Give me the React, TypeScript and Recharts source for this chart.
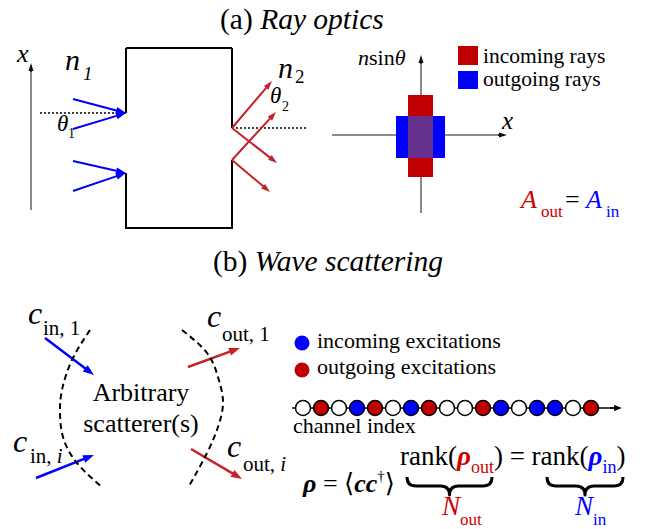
import React from 'react';
import { ComposedChart, XAxis, YAxis, Scatter, ReferenceLine, ReferenceArea } from 'recharts';

const W = 645;
const H = 529;
const RED = '#c00000';
const RAY_RED = '#c6202a';
const TXT_RED = '#cc0000';
const BLUE = '#0000ff';
const PURPLE = '#652f8e';
const SERIF = '"Liberation Serif", "Times New Roman", "DejaVu Serif", serif';

// ---------- panel (a) : ray optics ----------
const incomingRays = [
  { x1: 73, y1: 99, x2: 126, y2: 113 },
  { x1: 73, y1: 129, x2: 126, y2: 113 },
  { x1: 73, y1: 161, x2: 126, y2: 173 },
  { x1: 73, y1: 191, x2: 126, y2: 173 },
];
const outgoingRays = [
  { x1: 232, y1: 128, x2: 272, y2: 81 },
  { x1: 232, y1: 128, x2: 277, y2: 163 },
  { x1: 232, y1: 160, x2: 276, y2: 112 },
  { x1: 232, y1: 160, x2: 270, y2: 192 },
];
const boxEdges = [
  { x1: 126, y1: 48, x2: 232, y2: 48 },
  { x1: 126, y1: 48, x2: 126, y2: 113 },
  { x1: 126, y1: 173, x2: 126, y2: 228 },
  { x1: 125, y1: 228, x2: 233, y2: 228 },
  { x1: 232, y1: 48, x2: 232, y2: 128 },
  { x1: 232, y1: 160, x2: 232, y2: 228 },
];
const normals = [
  { x1: 40, y1: 113, x2: 126, y2: 113 },
  { x1: 232, y1: 128, x2: 307, y2: 128 },
];
const grayAxes = [
  { x1: 31, y1: 210, x2: 31, y2: 66 },
  { x1: 421, y1: 213, x2: 421, y2: 177 },
  { x1: 421, y1: 95, x2: 421, y2: 58 },
  { x1: 332, y1: 135, x2: 396, y2: 135 },
  { x1: 445, y1: 135, x2: 503, y2: 135 },
];
const axisTips = [
  { x1: 31, y1: 72, x2: 31, y2: 63 },
  { x1: 421, y1: 64, x2: 421, y2: 55 },
  { x1: 498, y1: 135, x2: 507, y2: 135 },
];
const phaseIncoming = { x1: 408, x2: 433, y1: 95, y2: 177 };
const phaseOutgoing = { x1: 396, x2: 445, y1: 116, y2: 158 };
const phaseOverlap = { x1: 408, x2: 433, y1: 116, y2: 158 };
const legendRays = [
  { label: 'incoming rays', color: RED, x1: 458, x2: 478, y1: 46, y2: 65 },
  { label: 'outgoing rays', color: BLUE, x1: 458, x2: 478, y1: 71, y2: 89 },
];

// ---------- panel (b) : wave scattering ----------
const leftArc = [
  { x: 90, y: 330 }, { x: 72, y: 360 }, { x: 62, y: 390 }, { x: 60, y: 412 },
  { x: 63, y: 437 }, { x: 77, y: 463 }, { x: 103, y: 488 },
];
const rightArc = [
  { x: 182, y: 330 }, { x: 207, y: 353 }, { x: 218, y: 377 }, { x: 223, y: 402 },
  { x: 218, y: 427 }, { x: 207, y: 453 }, { x: 188, y: 488 },
];
const inWaves = [
  { x1: 45, y1: 338, x2: 94, y2: 375 },
  { x1: 36, y1: 478, x2: 94, y2: 455 },
];
const outWaves = [
  { x1: 188, y1: 367, x2: 240, y2: 348 },
  { x1: 191, y1: 449, x2: 242, y2: 479 },
];
const legendDots = [
  { x: 302, y: 343, color: BLUE },
  { x: 302, y: 370, color: RED },
];
const channelStates = [
  'empty', 'out', 'empty', 'in', 'out', 'empty', 'in', 'out', 'empty',
  'empty', 'out', 'in', 'empty', 'in', 'in', 'empty', 'out',
];
const channels = channelStates.map((state, i) => ({ ch: i + 1, y: 408, state }));
const channelLine = [{ x: 292, y: 408 }, { x: 616, y: 408 }];
const channelTip = { x1: 610, y1: 408, x2: 622, y2: 408 };
const braces = [
  { x1: 407, x2: 492, y: 477, color: '#000' },
  { x1: 547, x2: 623, y: 477, color: '#000' },
];

// ---------- text anchors ----------
const labels = [
  { id: 'titleA', x: 220, y: 29 },
  { id: 'xA', x: 17, y: 62 },
  { id: 'n1', x: 65, y: 70 },
  { id: 'th1', x: 57, y: 131 },
  { id: 'n2', x: 278, y: 78 },
  { id: 'th2', x: 270, y: 103 },
  { id: 'nsin', x: 358, y: 65 },
  { id: 'xPhase', x: 502, y: 129 },
  { id: 'legIn', x: 483, y: 63 },
  { id: 'legOut', x: 483, y: 86 },
  { id: 'aeq', x: 521, y: 208 },
  { id: 'titleB', x: 213, y: 271 },
  { id: 'cin1', x: 28, y: 324 },
  { id: 'cout1', x: 207, y: 327 },
  { id: 'cini', x: 13, y: 452 },
  { id: 'couti', x: 227, y: 457 },
  { id: 'arb', x: 141, y: 401 },
  { id: 'scat', x: 141, y: 432 },
  { id: 'exIn', x: 317, y: 348 },
  { id: 'exOut', x: 317, y: 374 },
  { id: 'chIdx', x: 293, y: 433 },
  { id: 'rho', x: 303, y: 492 },
  { id: 'rank', x: 400, y: 465 },
  { id: 'nout', x: 442, y: 515 },
  { id: 'nin', x: 575, y: 515 },
];

const T = (props: any) => <text fontFamily={SERIF} fill="#000" {...props} />;

function renderLabel(id: string, x: number, y: number) {
  switch (id) {
    case 'titleA':
      return <T x={x} y={y} fontSize={29.5}>(a) <tspan fontStyle="italic">Ray optics</tspan></T>;
    case 'titleB':
      return <T x={x} y={y} fontSize={29.5}>(b) <tspan fontStyle="italic">Wave scattering</tspan></T>;
    case 'xA':
      return <T x={x} y={y} fontSize={26} fontStyle="italic">x</T>;
    case 'n1':
      return (
        <g>
          <T x={x} y={y} fontSize={30} fontStyle="italic">n</T>
          <T x={x + 18} y={y + 10} fontSize={19} fontStyle="italic">1</T>
        </g>
      );
    case 'n2':
      return (
        <g>
          <T x={x} y={y} fontSize={30} fontStyle="italic">n</T>
          <T x={x + 17} y={y + 5} fontSize={19}>2</T>
        </g>
      );
    case 'th1':
      return (
        <g>
          <T x={x} y={y} fontSize={23} fontStyle="italic">θ</T>
          <T x={x + 11} y={y + 7} fontSize={14}>1</T>
        </g>
      );
    case 'th2':
      return (
        <g>
          <T x={x} y={y} fontSize={23} fontStyle="italic">θ</T>
          <T x={x + 12} y={y + 8} fontSize={14}>2</T>
        </g>
      );
    case 'nsin':
      return (
        <T x={x} y={y} fontSize={22}>
          <tspan fontStyle="italic">n</tspan>sin<tspan fontStyle="italic">θ</tspan>
        </T>
      );
    case 'xPhase':
      return <T x={x} y={y} fontSize={25} fontStyle="italic">x</T>;
    case 'legIn':
      return <T x={x} y={y} fontSize={21.5}>{legendRays[0].label}</T>;
    case 'legOut':
      return <T x={x} y={y} fontSize={21.5}>{legendRays[1].label}</T>;
    case 'aeq':
      return (
        <g>
          <T x={x} y={y} fontSize={26} fontStyle="italic" fill={TXT_RED}>A</T>
          <T x={x + 20} y={y + 9} fontSize={17} fill={TXT_RED}>out</T>
          <T x={x + 44} y={y} fontSize={26}>=</T>
          <T x={x + 65} y={y} fontSize={26} fontStyle="italic" fill={BLUE}>A</T>
          <T x={x + 85} y={y + 9} fontSize={17} fill={BLUE}>in</T>
        </g>
      );
    case 'cin1':
      return (
        <g>
          <T x={x} y={y} fontSize={32} fontStyle="italic">c</T>
          <T x={x + 15} y={y + 11} fontSize={21}>in, 1</T>
        </g>
      );
    case 'cout1':
      return (
        <g>
          <T x={x} y={y} fontSize={32} fontStyle="italic">c</T>
          <T x={x + 15} y={y + 14} fontSize={21}>out, 1</T>
        </g>
      );
    case 'cini':
      return (
        <g>
          <T x={x} y={y} fontSize={32} fontStyle="italic">c</T>
          <T x={x + 17} y={y + 11} fontSize={21}>in, <tspan fontStyle="italic">i</tspan></T>
        </g>
      );
    case 'couti':
      return (
        <g>
          <T x={x} y={y} fontSize={32} fontStyle="italic">c</T>
          <T x={x + 16} y={y + 14} fontSize={21}>out, <tspan fontStyle="italic">i</tspan></T>
        </g>
      );
    case 'arb':
      return <T x={x} y={y} fontSize={26} textAnchor="middle">Arbitrary</T>;
    case 'scat':
      return <T x={x} y={y} fontSize={26} textAnchor="middle">scatterer(s)</T>;
    case 'exIn':
      return <T x={x} y={y} fontSize={22}>incoming excitations</T>;
    case 'exOut':
      return <T x={x} y={y} fontSize={22}>outgoing excitations</T>;
    case 'chIdx':
      return <T x={x} y={y} fontSize={22}>channel index</T>;
    case 'rho':
      return (
        <T x={x} y={y} fontSize={26}>
          <tspan fontWeight="bold" fontStyle="italic">ρ</tspan> = ⟨
          <tspan fontWeight="bold" fontStyle="italic">cc</tspan>
          <tspan fontSize={15} dy={-11}>†</tspan>
          <tspan dy={11}>⟩</tspan>
        </T>
      );
    case 'rank':
      return (
        <T x={x} y={y} fontSize={27}>
          rank(
          <tspan fontWeight="bold" fontStyle="italic" fill={TXT_RED}>ρ</tspan>
          <tspan fontSize={18} dy={8} fill={TXT_RED}>out</tspan>
          <tspan dy={-8}>) = rank(</tspan>
          <tspan fontWeight="bold" fontStyle="italic" fill={BLUE}>ρ</tspan>
          <tspan fontSize={18} dy={8} fill={BLUE}>in</tspan>
          <tspan dy={-8}>)</tspan>
        </T>
      );
    case 'nout':
      return (
        <g>
          <T x={x} y={y} fontSize={27} fontStyle="italic" fill={TXT_RED}>N</T>
          <T x={x + 18} y={y + 10} fontSize={17} fill={TXT_RED}>out</T>
        </g>
      );
    case 'nin':
      return (
        <g>
          <T x={x} y={y} fontSize={27} fontStyle="italic" fill={BLUE}>N</T>
          <T x={x + 18} y={y + 10} fontSize={17} fill={BLUE}>in</T>
        </g>
      );
    default:
      return <g />;
  }
}

const arrowShape = (color: string, sw: number, hl: number, hw: number) => (p: any) => {
  const { x1, y1, x2, y2 } = p;
  if (x1 == null || x2 == null) return <g />;
  const dx = x2 - x1;
  const dy = y2 - y1;
  const L = Math.hypot(dx, dy) || 1;
  const ux = dx / L;
  const uy = dy / L;
  const bx = x2 - ux * hl;
  const by = y2 - uy * hl;
  const px = -uy;
  const py = ux;
  return (
    <g>
      <line x1={x1} y1={y1} x2={bx + ux} y2={by + uy} stroke={color} strokeWidth={sw} />
      <polygon
        points={`${x2},${y2} ${bx + (px * hw) / 2},${by + (py * hw) / 2} ${bx - (px * hw) / 2},${by - (py * hw) / 2}`}
        fill={color}
      />
    </g>
  );
};

const braceShape = (color: string) => (p: any) => {
  const { x1, y1, x2 } = p;
  if (x1 == null) return <g />;
  const h = 18;
  const r = h / 2;
  const xm = (x1 + x2) / 2;
  const y = y1;
  const d = `M${x1},${y} Q${x1},${y + r} ${x1 + r},${y + r} L${xm - r},${y + r} Q${xm},${y + r} ${xm},${y + h} Q${xm},${y + r} ${xm + r},${y + r} L${x2 - r},${y + r} Q${x2},${y + r} ${x2},${y}`;
  return <path d={d} fill="none" stroke={color} strokeWidth={3} strokeLinejoin="round" />;
};

const seg = (s: { x1: number; y1: number; x2: number; y2: number }) => [
  { x: s.x1, y: s.y1 },
  { x: s.x2, y: s.y2 },
];

const blank = () => <g />;

export default function App() {
  return (
    <div style={{ position: 'absolute', left: 0, top: 0, width: W, height: H, background: '#fff' }}>
      <ComposedChart width={W} height={H} margin={{ top: 0, right: 0, bottom: 0, left: 0 }}>
        <XAxis type="number" dataKey="x" domain={[0, W]} hide allowDataOverflow />
        <XAxis xAxisId="ch" type="number" dataKey="ch" domain={[-15.8333333, 20]} hide allowDataOverflow />
        <YAxis type="number" dataKey="y" domain={[0, H]} reversed hide allowDataOverflow />

        {/* phase-space rectangles */}
        <ReferenceArea {...phaseIncoming} fill={RED} fillOpacity={1} stroke="none" ifOverflow="visible" />
        <ReferenceArea {...phaseOutgoing} fill={BLUE} fillOpacity={1} stroke="none" ifOverflow="visible" />
        <ReferenceArea {...phaseOverlap} fill={PURPLE} fillOpacity={1} stroke="none" ifOverflow="visible" />
        {legendRays.map((l, i) => (
          <ReferenceArea key={`lr${i}`} x1={l.x1} x2={l.x2} y1={l.y1} y2={l.y2} fill={l.color} fillOpacity={1} stroke="none" ifOverflow="visible" />
        ))}

        {/* axes */}
        {grayAxes.map((s, i) => (
          <ReferenceLine key={`ga${i}`} segment={seg(s)} stroke="#8a8a8a" strokeWidth={2} ifOverflow="visible" />
        ))}
        {axisTips.map((s, i) => (
          <ReferenceLine key={`at${i}`} segment={seg(s)} ifOverflow="visible" shape={arrowShape('#111', 1.5, 8, 5)} />
        ))}

        {/* box */}
        {boxEdges.map((s, i) => (
          <ReferenceLine key={`be${i}`} segment={seg(s)} stroke="#000" strokeWidth={2} ifOverflow="visible" />
        ))}
        {normals.map((s, i) => (
          <ReferenceLine key={`nm${i}`} segment={seg(s)} stroke="#000" strokeWidth={1.5} strokeDasharray="2 2" ifOverflow="visible" />
        ))}
        {incomingRays.map((s, i) => (
          <ReferenceLine key={`ir${i}`} segment={seg(s)} ifOverflow="visible" shape={arrowShape(BLUE, 2, 10, 7)} />
        ))}
        {outgoingRays.map((s, i) => (
          <ReferenceLine key={`or${i}`} segment={seg(s)} ifOverflow="visible" shape={arrowShape(RAY_RED, 2, 9, 6)} />
        ))}

        {/* panel b */}
        <Scatter data={leftArc} shape={blank} line={{ stroke: '#000', strokeWidth: 2, strokeDasharray: '6 4' }} lineJointType="natural" isAnimationActive={false} />
        <Scatter data={rightArc} shape={blank} line={{ stroke: '#000', strokeWidth: 2, strokeDasharray: '6 4' }} lineJointType="natural" isAnimationActive={false} />
        {inWaves.map((s, i) => (
          <ReferenceLine key={`iw${i}`} segment={seg(s)} ifOverflow="visible" shape={arrowShape(BLUE, 2.5, 11, 8)} />
        ))}
        {outWaves.map((s, i) => (
          <ReferenceLine key={`ow${i}`} segment={seg(s)} ifOverflow="visible" shape={arrowShape(RAY_RED, 2.5, 11, 8)} />
        ))}

        <Scatter
          data={legendDots}
          isAnimationActive={false}
          shape={(p: any) => <circle cx={p.cx} cy={p.cy} r={7.5} fill={p.payload.color} />}
        />
        <Scatter data={channelLine} shape={blank} line={{ stroke: '#000', strokeWidth: 1.5 }} isAnimationActive={false} />
        <ReferenceLine segment={seg(channelTip)} ifOverflow="visible" shape={arrowShape('#000', 1.5, 8, 6)} />
        <Scatter
          xAxisId="ch"
          data={channels}
          isAnimationActive={false}
          shape={(p: any) => (
            <circle
              cx={p.cx}
              cy={p.cy}
              r={7.5}
              fill={p.payload.state === 'in' ? BLUE : p.payload.state === 'out' ? RED : '#fff'}
              stroke="#000"
              strokeWidth={1.5}
            />
          )}
        />
        {braces.map((b, i) => (
          <ReferenceLine key={`br${i}`} segment={[{ x: b.x1, y: b.y }, { x: b.x2, y: b.y }]} ifOverflow="visible" shape={braceShape(b.color)} />
        ))}

        <Scatter
          data={labels}
          isAnimationActive={false}
          shape={(p: any) => renderLabel(p.payload.id, p.cx, p.cy)}
        />
      </ComposedChart>
    </div>
  );
}
